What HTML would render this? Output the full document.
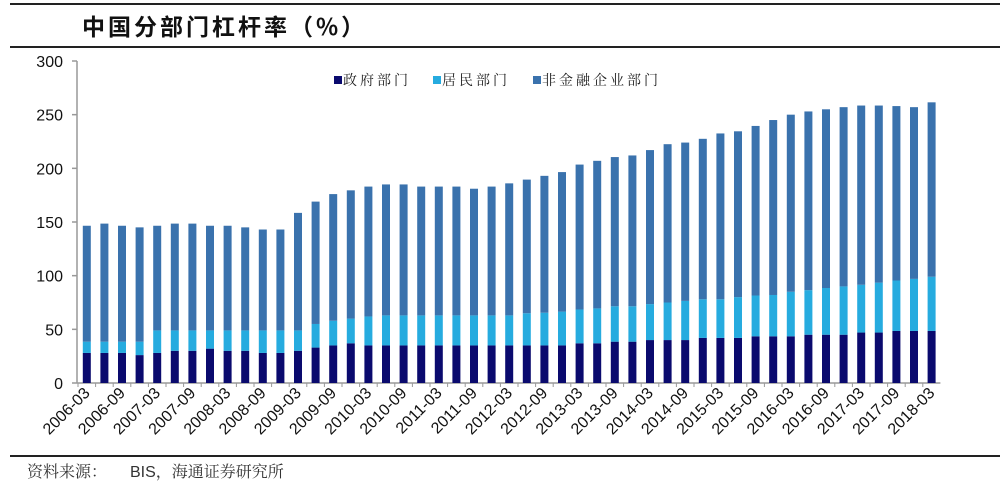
<!DOCTYPE html>
<html><head><meta charset="utf-8">
<style>
body{margin:0;background:#fff;}
#wrap{position:relative;width:1000px;height:500px;overflow:hidden;font-family:"Liberation Sans","Noto Sans CJK SC",sans-serif;}
</style></head>
<body>
<div id="wrap">
<svg id="chart" width="1000" height="500">
  <line x1="10" y1="4" x2="1000" y2="4" stroke="#222" stroke-width="2"/>
  <text x="82" y="35" font-size="23" font-weight="bold" fill="#111" letter-spacing="3" font-family="'Noto Sans CJK SC',sans-serif">中国分部门杠杆率（%）</text>
  <line x1="10" y1="47" x2="1000" y2="47" stroke="#222" stroke-width="2"/>
  <line x1="10" y1="456" x2="1000" y2="456" stroke="#222" stroke-width="2"/>
  <text x="27" y="477" font-size="16" fill="#333" font-family="'Noto Serif CJK SC',serif">资料来源：</text>
  <text x="130" y="477" font-size="16" fill="#333" font-family="'Liberation Sans','Noto Serif CJK SC',serif">BIS<tspan font-family="'Noto Serif CJK SC',serif">，海通证券研究所</tspan></text>
  <g id="legend"></g>
  <g id="axes"></g>
  <g id="bars"></g>
</svg>
</div>
<script>
const categories = ["2006-03","2006-06","2006-09","2006-12","2007-03","2007-06","2007-09","2007-12","2008-03","2008-06","2008-09","2008-12","2009-03","2009-06","2009-09","2009-12","2010-03","2010-06","2010-09","2010-12","2011-03","2011-06","2011-09","2011-12","2012-03","2012-06","2012-09","2012-12","2013-03","2013-06","2013-09","2013-12","2014-03","2014-06","2014-09","2014-12","2015-03","2015-06","2015-09","2015-12","2016-03","2016-06","2016-09","2016-12","2017-03","2017-06","2017-09","2017-12","2018-03"];
const government = [28,28,28,26,28,30,30,32,30,30,28,28,30,33,35,37,35,35,35,35,35,35,35,35,35,35,35,35,37,37,38.5,38.5,40,40,40,42,42,42,43.5,43.5,43.5,45,45,45,47,47,48.5,48.5,48.5];
const household = [10.5,10.5,10.5,12.5,21,19,19,17,19,19,21,21,19,22,23,23,27,28,28,28,28,28,28,28,28,30,30.5,31.5,31.5,32.5,33,33,33.5,35,36.5,36,36,38,38,38.5,41.5,41.5,43.5,45,44.5,46.5,47,48.5,50.5];
const corporate = [108,110,108,106.5,97.5,99.5,99.5,97.5,97.5,96,94,94,109.5,114,118,119.5,121,122,122,120,120,120,118,120,123,124.5,127.5,130,135,137.5,139,140.5,143.5,147.5,147.5,149.5,154.5,154.5,158,163,165,166.5,166.5,167,167,165,162.5,160,162.5];
const yTicks = [0,50,100,150,200,250,300];
const seriesNames = ["政府部门","居民部门","非金融企业部门"];
const seriesColors = ["#0a0a6e","#26abdf","#3a72ad"];

const NS="http://www.w3.org/2000/svg";
const x0=78, band=17.6, barW=8, yBase=383, yTop=61, yMax=300;
const yScale=v=>yBase-(v/yMax)*(yBase-yTop);
const xCenter=i=>x0+(i+0.5)*band;
function mk(tag,attrs,parent){const e=document.createElementNS(NS,tag);for(const k in attrs)e.setAttribute(k,attrs[k]);parent.appendChild(e);return e;}
const axes=document.getElementById('axes'), bars=document.getElementById('bars'), legend=document.getElementById('legend');
const xEnd=x0+categories.length*band;

const yAxis=mk('line',{x1:77,y1:yTop,x2:77,y2:yBase,stroke:'#999','stroke-width':1.5},axes);


yTicks.forEach(t=>{
  const y=yScale(t);
  const tk=mk('line',{x1:72,y1:y,x2:77,y2:y,stroke:'#999','stroke-width':1.5},axes);
  
  
  const tx=mk('text',{x:63,y:y+6,'text-anchor':'end','font-size':16,fill:'#111'},axes);
  tx.textContent=t;
  
  
});
const xAxis=mk('line',{x1:77,y1:yBase,x2:xEnd,y2:yBase,stroke:'#999','stroke-width':1.5},axes);


categories.forEach((c,i)=>{
  const xt=x0+i*band;
  const tk=mk('line',{x1:xt,y1:yBase,x2:xt,y2:yBase+4,stroke:'#999','stroke-width':1},axes);
  
  
  if(i%2===0){
    const cx=xCenter(i)+4, cy=yBase+11;
    const tx=mk('text',{x:cx,y:cy,'text-anchor':'end','font-size':16,fill:'#111',transform:`rotate(-45 ${cx} ${cy})`},axes);
    tx.textContent=c;
    
    
  }
});
const series=[government,household,corporate];
categories.forEach((c,i)=>{
  let cum=0;
  series.forEach((s,k)=>{
    const v=s[i];
    const r=mk('rect',{x:xCenter(i)-barW/2,y:yScale(cum+v),width:barW,height:yScale(cum)-yScale(cum+v),fill:seriesColors[k]},bars);
    
    
    cum+=v;
  });
});
const lxs=[334,433,533];
seriesNames.forEach((n,k)=>{
  const sw=mk('rect',{x:lxs[k],y:76,width:8,height:8,fill:seriesColors[k]},legend);
  
  
  const t=mk('text',{x:lxs[k]+9,y:85,'font-size':14,fill:'#222','font-family':"'Noto Serif CJK SC',serif",'letter-spacing':3},legend);
  t.textContent=n;
  
  
});
</script>
</body></html>
